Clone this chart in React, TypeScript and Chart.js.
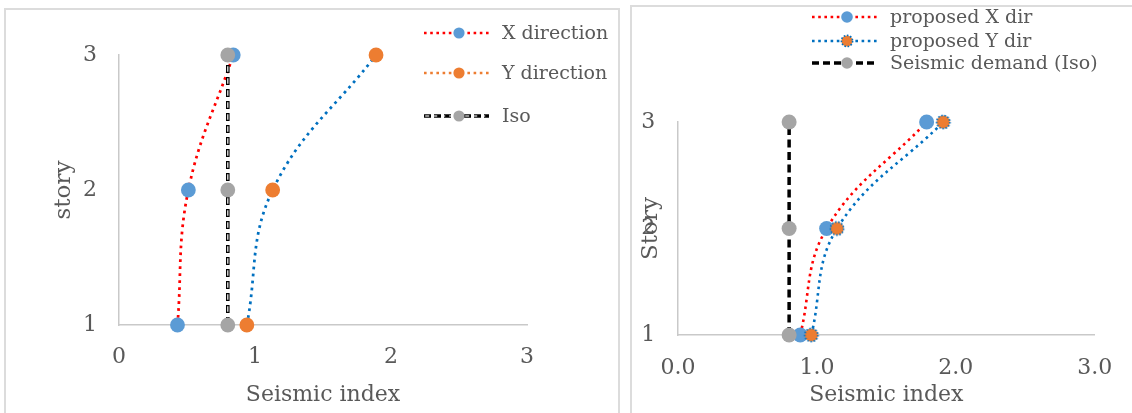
import React, { useEffect, useRef } from "react";
import { Chart, registerables } from "chart.js";

Chart.register(...registerables);

// ---------- data ----------
const stories = [1, 2, 3];
const xMin = 0;
const xMax = 3;

// left chart
const leftLabels = ["X direction", "Y direction", "Iso"];
const xDirIndex = [0.43, 0.51, 0.84];
const yDirIndex = [0.94, 1.13, 1.89];
const isoIndex = [0.8, 0.8, 0.8];

// right chart
const rightLabels = ["proposed X dir", "proposed Y dir", "Seismic demand (Iso)"];
const proposedXIndex = [0.88, 1.07, 1.79];
const proposedYIndex = [0.96, 1.145, 1.91];
const demandIsoIndex = [0.8, 0.8, 0.8];

// ---------- styles ----------
const FONT = "'DejaVu Serif', 'Liberation Serif', serif";
const TEXT = "#595959";
const AXIS = "#c9c9c9";
const BLUE_MK = "#5b9bd5";
const ORANGE_MK = "#ed7d31";
const GREY_MK = "#a5a5a5";
const RED_LINE = "#ff0000";
const BLUE_LINE = "#0070c0";

const pts = (xs: number[]) => xs.map((x, i) => ({ x, y: stories[i] }));

function dottedOrangeMarker(r: number): HTMLCanvasElement {
  const size = Math.ceil(r * 2 + 4);
  const c = document.createElement("canvas");
  c.width = size;
  c.height = size;
  const ctx = c.getContext("2d")!;
  ctx.beginPath();
  ctx.arc(size / 2, size / 2, r, 0, Math.PI * 2);
  ctx.fillStyle = ORANGE_MK;
  ctx.fill();
  ctx.setLineDash([1.6, 1.6]);
  ctx.lineWidth = 1.6;
  ctx.strokeStyle = BLUE_LINE;
  ctx.stroke();
  return c;
}

type LegendEntry = {
  text: string;
  color: string;
  width: number;
  dash: number[];
  compound?: boolean;
  marker: string;
  markerImg?: HTMLCanvasElement;
};

type LegendCfg = {
  rows: number[];
  x0: number;
  x1: number;
  mx: number;
  tx: number;
  r: number;
  entries: LegendEntry[];
};

const legendPlugin = {
  id: "customLegend",
  afterDraw(chart: any) {
    const cfg: LegendCfg | undefined = chart.options.plugins.customLegend;
    if (!cfg || !cfg.entries) return;
    const ctx: CanvasRenderingContext2D = chart.ctx;
    cfg.entries.forEach((e, i) => {
      const y = cfg.rows[i];
      ctx.save();
      ctx.lineCap = "butt";
      ctx.setLineDash(e.dash);
      ctx.strokeStyle = e.color;
      ctx.lineWidth = e.width;
      ctx.beginPath();
      ctx.moveTo(cfg.x0, y);
      ctx.lineTo(cfg.x1, y);
      ctx.stroke();
      if (e.compound) {
        ctx.setLineDash([4, 4]);
        ctx.lineDashOffset = -1.2;
        ctx.strokeStyle = "#ffffff";
        ctx.lineWidth = 1.1;
        ctx.beginPath();
        ctx.moveTo(cfg.x0, y);
        ctx.lineTo(cfg.x1, y);
        ctx.stroke();
      }
      ctx.setLineDash([]);
      if (e.markerImg) {
        const s = e.markerImg.width;
        ctx.drawImage(e.markerImg, cfg.mx - s / 2, y - s / 2);
      } else {
        ctx.beginPath();
        ctx.arc(cfg.mx, y, cfg.r, 0, Math.PI * 2);
        ctx.fillStyle = e.marker;
        ctx.fill();
      }
      ctx.fillStyle = TEXT;
      ctx.font = `19px ${FONT}`;
      ctx.textBaseline = "middle";
      ctx.textAlign = "left";
      ctx.fillText(e.text, cfg.tx, y + 1);
      ctx.restore();
    });
  },
};

function makeScales(opts: {
  yWidth: number;
  xHeight: number;
  yTitle: string;
  yTitlePad: number;
  xFmt: (v: number) => string;
  xTickPad: number;
  yTickPad: number;
}) {
  return {
    x: {
      type: "linear",
      min: xMin,
      max: xMax,
      ticks: {
        stepSize: 1,
        padding: opts.xTickPad,
        color: TEXT,
        font: { family: FONT, size: 22 },
        callback: (v: any) => opts.xFmt(Number(v)),
      },
      grid: { display: false, drawTicks: false },
      border: { display: true, color: AXIS, width: 1.5 },
      title: {
        display: true,
        text: "Seismic index",
        color: TEXT,
        font: { family: FONT, size: 22 },
        padding: { top: 0, bottom: 4.8 },
      },
      afterFit: (s: any) => {
        s.height = opts.xHeight;
      },
    },
    y: {
      type: "linear",
      min: stories[0],
      max: stories[stories.length - 1],
      ticks: {
        stepSize: 1,
        padding: opts.yTickPad,
        color: TEXT,
        font: { family: FONT, size: 22 },
        callback: (v: any) => String(v),
      },
      grid: { display: false, drawTicks: false },
      border: { display: true, color: AXIS, width: 1.5 },
      title: {
        display: true,
        text: opts.yTitle,
        color: TEXT,
        font: { family: FONT, size: 23 },
        padding: { top: opts.yTitlePad, bottom: 0 },
      },
      afterFit: (s: any) => {
        s.width = opts.yWidth;
      },
    },
  };
}

const dotted = (color: string) => ({
  borderColor: color,
  borderWidth: 2.75,
  borderDash: [2.75, 4.25],
  borderCapStyle: "butt",
  tension: 0.4,
});

function LeftChart() {
  const ref = useRef<HTMLCanvasElement>(null);
  useEffect(() => {
    const chart = new Chart(ref.current!, {
      type: "line",
      data: {
        datasets: [
          {
            label: leftLabels[0],
            data: pts(xDirIndex),
            ...dotted(RED_LINE),
            pointRadius: 7.4,
            pointBackgroundColor: BLUE_MK,
            pointBorderWidth: 0,
            clip: false,
            order: 3,
          },
          {
            label: leftLabels[1],
            data: pts(yDirIndex),
            ...dotted(BLUE_LINE),
            pointRadius: 7.4,
            pointBackgroundColor: ORANGE_MK,
            pointBorderWidth: 0,
            clip: false,
            order: 4,
          },
          {
            label: leftLabels[2],
            data: pts(isoIndex),
            borderColor: "#000000",
            borderWidth: 3.6,
            borderDash: [8, 4],
            pointRadius: 0,
            clip: false,
            order: 2,
          },
          {
            label: leftLabels[2] + " inner",
            data: pts(isoIndex),
            borderColor: "#ffffff",
            borderWidth: 1.2,
            borderDash: [5.4, 6.6],
            borderDashOffset: -1.3,
            pointRadius: 0,
            clip: false,
            order: 1,
          },
          {
            label: leftLabels[2] + " points",
            data: pts(isoIndex),
            showLine: false,
            pointRadius: 7.4,
            pointBackgroundColor: GREY_MK,
            pointBorderWidth: 0,
            clip: false,
            order: 0,
          },
        ],
      } as any,
      options: {
        responsive: false,
        animation: false,
        events: [],
        layout: { padding: { left: 0, top: 46, right: 93, bottom: 0 } },
        plugins: {
          legend: { display: false },
          tooltip: { enabled: false },
          customLegend: {
            rows: [24, 64, 107],
            x0: 419,
            x1: 484,
            mx: 454,
            tx: 497,
            r: 5.6,
            entries: [
              { text: leftLabels[0], color: RED_LINE, width: 2.6, dash: [2.6, 3.6], marker: BLUE_MK },
              { text: leftLabels[1], color: ORANGE_MK, width: 2.6, dash: [2.6, 3.6], marker: ORANGE_MK },
              { text: leftLabels[2], color: "#000000", width: 3.4, dash: [7, 3], compound: true, marker: GREY_MK },
            ],
          },
        } as any,
        scales: makeScales({
          yWidth: 114,
          xHeight: 88,
          yTitle: "story",
          yTitlePad: 45.2,
          xFmt: (v) => String(v),
          xTickPad: 18.8,
          yTickPad: 22,
        }) as any,
      },
      plugins: [legendPlugin],
    });
    return () => chart.destroy();
  }, []);
  return <canvas ref={ref} width={615} height={404} />;
}

function RightChart() {
  const ref = useRef<HTMLCanvasElement>(null);
  useEffect(() => {
    const yMarker = dottedOrangeMarker(6.6);
    const yMarkerLegend = dottedOrangeMarker(5.6);
    const chart = new Chart(ref.current!, {
      type: "line",
      data: {
        datasets: [
          {
            label: rightLabels[0],
            data: pts(proposedXIndex),
            ...dotted(RED_LINE),
            borderWidth: 2.6,
            borderDash: [2.6, 4],
            pointRadius: 7.5,
            pointBackgroundColor: BLUE_MK,
            pointBorderWidth: 0,
            clip: false,
            order: 2,
          },
          {
            label: rightLabels[1],
            data: pts(proposedYIndex),
            ...dotted(BLUE_LINE),
            borderWidth: 2.6,
            borderDash: [2.6, 4],
            pointStyle: yMarker,
            pointRadius: 7,
            clip: false,
            order: 1,
          },
          {
            label: rightLabels[2],
            data: pts(demandIsoIndex),
            borderColor: "#000000",
            borderWidth: 3.5,
            borderDash: [8, 4.5],
            pointRadius: 7.5,
            pointBackgroundColor: GREY_MK,
            pointBorderWidth: 0,
            clip: false,
            order: 0,
          },
        ],
      } as any,
      options: {
        responsive: false,
        animation: false,
        events: [],
        layout: { padding: { left: 0, top: 116, right: 29, bottom: 0 } },
        plugins: {
          legend: { display: false },
          tooltip: { enabled: false },
          customLegend: {
            rows: [11, 35, 57],
            x0: 181,
            x1: 246,
            mx: 216,
            tx: 259,
            r: 5.8,
            entries: [
              { text: rightLabels[0], color: RED_LINE, width: 2.6, dash: [2.6, 3.6], marker: BLUE_MK },
              { text: rightLabels[1], color: BLUE_LINE, width: 2.6, dash: [2.6, 3.6], marker: ORANGE_MK, markerImg: yMarkerLegend },
              { text: rightLabels[2], color: "#000000", width: 3.4, dash: [7, 4], marker: GREY_MK },
            ],
          },
        } as any,
        scales: makeScales({
          yWidth: 47,
          xHeight: 78,
          yTitle: "Story",
          yTitlePad: 6.7,
          xFmt: (v) => v.toFixed(1),
          xTickPad: 19.8,
          yTickPad: 22.7,
        }) as any,
      },
      plugins: [legendPlugin],
    });
    return () => chart.destroy();
  }, []);
  return <canvas ref={ref} width={501} height={407} />;
}

export default function App() {
  const panelBorder = "2px solid #dcdcdc";
  return (
    <div style={{ position: "absolute", left: 0, top: 0, width: 1132, height: 413, overflow: "hidden", background: "#ffffff" }}>
      <div style={{ position: "absolute", left: 4, top: 8, width: 616, height: 420, border: panelBorder, boxSizing: "border-box" }} />
      <div style={{ position: "absolute", left: 630, top: 5, width: 520, height: 420, border: panelBorder, boxSizing: "border-box" }} />
      <div style={{ position: "absolute", left: 5, top: 9 }}>
        <LeftChart />
      </div>
      <div style={{ position: "absolute", left: 631, top: 6 }}>
        <RightChart />
      </div>
    </div>
  );
}
